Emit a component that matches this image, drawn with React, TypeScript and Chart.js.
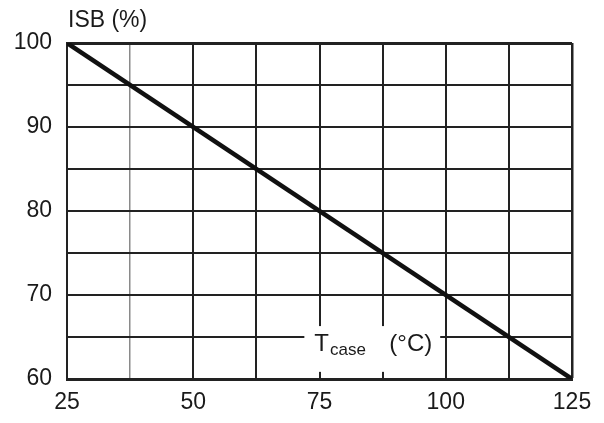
import React, { useEffect, useRef } from "react";
import { Chart, registerables } from "chart.js";

Chart.register(...registerables);

const temperatures = [25, 125];
const isbPercent = [100, 60];
const xTickLabels = [25, 50, 75, 100, 125];
const yTickLabels = [60, 70, 80, 90, 100];
const yAxisTitle = "ISB (%)";
const xAxisMain = "T";
const xAxisSub = "case";
const xAxisUnit = "(°C)";

const FONT = "'Liberation Sans', Arial, sans-serif";

const labelPlugin = {
  id: "labels",
  beforeDatasetsDraw(chart: any) {
    const { ctx, scales } = chart;
    const xs = scales.x;
    const ys = scales.y;
    // white box behind x-axis title inside the plot
    const left = xs.getPixelForValue(72);
    const right = xs.getPixelForValue(98.9);
    const top = ys.getPixelForValue(66.3);
    const bottom = ys.getPixelForValue(60.85);
    ctx.save();
    ctx.fillStyle = "#ffffff";
    ctx.fillRect(left, top, right - left, bottom - top);
    ctx.fillStyle = "#1a1a1a";
    ctx.textBaseline = "alphabetic";
    ctx.textAlign = "left";
    const base = ys.getPixelForValue(63.3);
    let x = left + 10;
    ctx.font = `24px ${FONT}`;
    ctx.fillText(xAxisMain, x, base);
    x += ctx.measureText(xAxisMain).width + 1;
    ctx.font = `17px ${FONT}`;
    ctx.fillText(xAxisSub, x, base + 4);
    ctx.font = `24px ${FONT}`;
    ctx.fillText(xAxisUnit, left + 85, base);
    ctx.restore();
  },
  afterDraw(chart: any) {
    const { ctx, chartArea } = chart;
    ctx.save();
    ctx.fillStyle = "#1a1a1a";
    ctx.font = `23px ${FONT}`;
    ctx.textAlign = "left";
    ctx.textBaseline = "alphabetic";
    ctx.fillText(yAxisTitle, chartArea.left + 1, chartArea.top - 16);
    ctx.restore();
  },
};

export default function App() {
  const ref = useRef<HTMLCanvasElement>(null);
  useEffect(() => {
    document.body.style.margin = "0";
    const canvas = ref.current!;
    const chart = new Chart(canvas, {
      type: "line",
      data: {
        datasets: [
          {
            data: temperatures.map((t, i) => ({ x: t, y: isbPercent[i] })),
            borderColor: "#111111",
            borderWidth: 4.5,
            pointRadius: 0,
            tension: 0,
          },
        ],
      },
      options: {
        animation: false,
        responsive: false,
        devicePixelRatio: 1,
        layout: { padding: { top: 43, right: 32, left: 0, bottom: 0 } },
        plugins: { legend: { display: false }, tooltip: { enabled: false } },
        scales: {
          x: {
            type: "linear",
            min: 25,
            max: 125,
            afterFit: (s: any) => {
              s.height = 44;
            },
            afterBuildTicks: (s: any) => {
              const t: any[] = [];
              for (let v = 25; v <= 125.001; v += 12.5) t.push({ value: v });
              s.ticks = t;
            },
            ticks: {
              autoSkip: false,
              maxRotation: 0,
              padding: 10,
              color: "#1a1a1a",
              font: { family: FONT, size: 23 },
              callback: (v: any) => (xTickLabels.includes(Number(v)) ? String(v) : ""),
            },
            grid: {
              drawTicks: false,
              color: (c: any) => (c.tick && c.tick.value === 37.5 ? "#8a8a8a" : "#222222"),
              lineWidth: (c: any) =>
                c.tick && c.tick.value === 37.5 ? 1.5 : c.tick && c.tick.value === 125 ? 2.5 : 2,
            },
            border: { color: "#222222", width: 3 },
          },
          y: {
            type: "linear",
            min: 60,
            max: 100,
            afterFit: (s: any) => {
              s.width = 67;
            },
            afterBuildTicks: (s: any) => {
              const t: any[] = [];
              for (let v = 60; v <= 100.001; v += 5) t.push({ value: v });
              s.ticks = t;
            },
            ticks: {
              autoSkip: false,
              padding: 15,
              color: "#1a1a1a",
              font: { family: FONT, size: 23 },
              callback: (v: any) => (yTickLabels.includes(Number(v)) ? String(v) : ""),
            },
            grid: {
              drawTicks: false,
              color: "#222222",
              lineWidth: (c: any) => (c.tick && c.tick.value === 100 ? 3 : 2),
            },
            border: { color: "#222222", width: 2 },
          },
        },
      },
      plugins: [labelPlugin],
    });
    return () => chart.destroy();
  }, []);
  return (
    <div style={{ position: "absolute", left: 0, top: 0, width: 604, height: 423, background: "#fff" }}>
      <canvas ref={ref} width={604} height={423} style={{ display: "block" }} />
    </div>
  );
}
